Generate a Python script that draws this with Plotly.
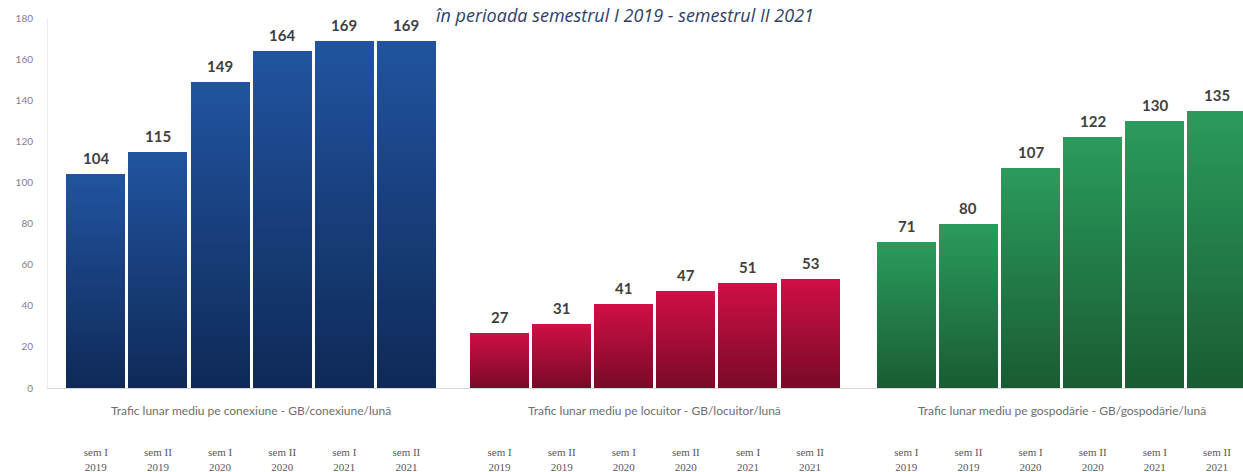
import plotly.graph_objects as go

# Semester labels shared by the three indicator groups
semestre = ["sem I<br>2019", "sem II<br>2019", "sem I<br>2020",
            "sem II<br>2020", "sem I<br>2021", "sem II<br>2021"]

# Average monthly traffic values (GB)
trafic_conexiune = [104, 115, 149, 164, 169, 169]
trafic_locuitor = [27, 31, 41, 47, 51, 53]
trafic_gospodarie = [71, 80, 107, 122, 130, 135]

indicatori = [
    "Trafic lunar mediu pe conexiune - GB/conexiune/lună",
    "Trafic lunar mediu pe locuitor - GB/locuitor/lună",
    "Trafic lunar mediu pe gospodărie - GB/gospodărie/lună",
]

titlu = "în perioada semestrul I 2019 - semestrul II 2021"

# Layout of the groups on the x axis and their gradient colours (top, bottom)
group_start = [0.0, 6.5, 13.05]
group_colors = [
    ("#21539F", "#0F2A58"),
    ("#CF0F45", "#7A0A27"),
    ("#2A9B5B", "#1A5C34"),
]
BAR_W = 0.95
N_LAYERS = 40

L_MARGIN, PAGE_W = 48, 1243


def hex_to_rgb(h):
    h = h.lstrip("#")
    return tuple(int(h[i:i + 2], 16) for i in (0, 2, 4))


def mix(c1, c2, t):
    a, b = hex_to_rgb(c1), hex_to_rgb(c2)
    return "rgb({},{},{})".format(*[round(a[i] + (b[i] - a[i]) * t) for i in range(3)])


fig = go.Figure()

series = [trafic_conexiune, trafic_locuitor, trafic_gospodarie]
tick_x, tick_text = [], []

for g, values in enumerate(series):
    xs = [group_start[g] + i for i in range(len(values))]
    tick_x += xs
    tick_text += semestre
    top, bottom = group_colors[g]
    # Vertical gradient: stacked overlays, each one shorter and darker
    for k in range(N_LAYERS):
        frac = (N_LAYERS - k) / N_LAYERS
        fig.add_trace(go.Bar(
            x=xs,
            y=[v * frac for v in values],
            width=BAR_W,
            marker=dict(color=mix(top, bottom, k / (N_LAYERS - 1)), line=dict(width=0)),
            hoverinfo="skip",
            showlegend=False,
        ))
    # Value labels above the bars
    for x, v in zip(xs, values):
        fig.add_annotation(
            x=x, y=v, xref="x", yref="y",
            text=str(v), showarrow=False,
            xanchor="center", yanchor="bottom", yshift=5,
            font=dict(family="Lato", size=15, color="#3F3F3F", weight="bold"),
        )
    fig.add_annotation(
        x=sum(xs) / len(xs), xref="x",
        y=-0.06, yref="paper",
        text=indicatori[g], showarrow=False,
        font=dict(family="Lato", size=12, color="#6E6E6E"),
        xanchor="center", yanchor="middle",
    )

fig.add_annotation(
    x=(625 - L_MARGIN) / (PAGE_W - L_MARGIN), xref="paper",
    y=1.046, yref="paper",
    text="<i>" + titlu + "</i>", showarrow=False,
    font=dict(family="Open Sans", size=18, color="#2F3F66"),
    xanchor="center", yanchor="top",
)

fig.update_layout(
    width=PAGE_W, height=472,
    margin=dict(l=L_MARGIN, r=0, t=18, b=84),
    paper_bgcolor="white", plot_bgcolor="white",
    barmode="overlay",
    bargap=0,
    xaxis=dict(
        range=[-0.77, 18.47],
        tickvals=tick_x, ticktext=tick_text,
        tickfont=dict(family="Liberation Serif", size=11, color="#595959"),
        showline=True, linecolor="#D9D9D9", linewidth=1,
        showgrid=False, zeroline=False, ticks="",
        ticklabelstandoff=54,
    ),
    yaxis=dict(
        range=[0, 180], dtick=20,
        tickfont=dict(family="Lato", size=10, color="#7F7F7F"),
        showline=True, linecolor="#EDEDED", linewidth=1,
        showgrid=False, zeroline=False, ticks="",
        ticklabelstandoff=12,
    ),
)

fig.write_html("out.html")
